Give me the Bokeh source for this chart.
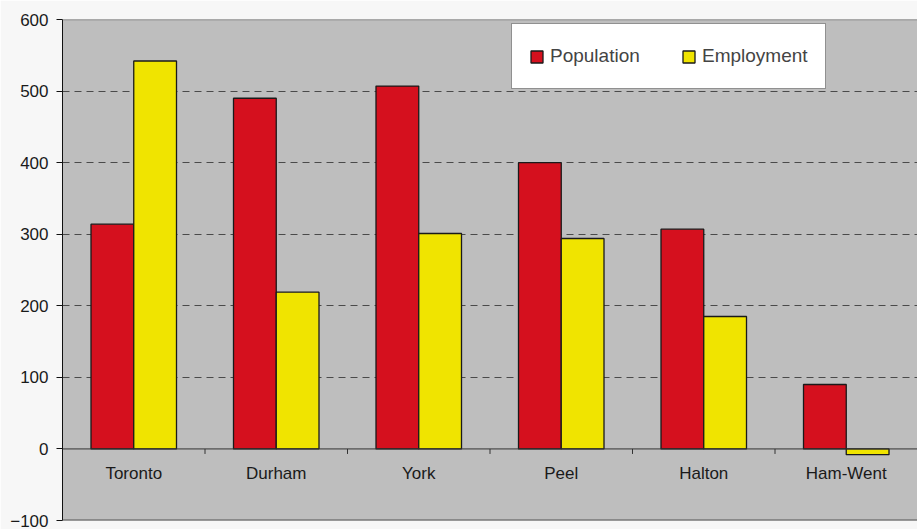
from bokeh.plotting import figure
from bokeh.models import (FactorRange, Range1d, Legend, LegendItem, Span,
                          FixedTicker, ColumnDataSource)
from bokeh.transform import dodge
from bokeh.core.properties import value
from bokeh.embed import file_html
from bokeh.resources import INLINE

regions = ["Toronto", "Durham", "York", "Peel", "Halton", "Ham-Went"]
population = [314, 490, 507, 400, 307, 90]
employment = [542, 219, 301, 294, 185, -8]
y_ticks = [-100, 0, 100, 200, 300, 400, 500, 600]
grid_ticks = [100, 200, 300, 400, 500]
boundaries = [1, 2, 3, 4, 5]

FONT = "Liberation Sans"
RED = "#d5101e"
YELLOW = "#f0e400"

source = ColumnDataSource(dict(region=regions, population=population,
                               employment=employment))

p = figure(width=917, height=529,
           x_range=FactorRange(*regions, range_padding=0),
           y_range=Range1d(-100, 600),
           output_backend="svg", toolbar_location=None,
           min_border_left=62, min_border_right=0,
           min_border_top=19, min_border_bottom=9)

p.background_fill_color = "#bebebe"
p.border_fill_color = "#f7f7f7"
p.outline_line_color = None

p.xaxis.visible = False
p.xgrid.visible = False
p.ygrid.ticker = FixedTicker(ticks=grid_ticks)
p.ygrid.grid_line_color = "#4a4a4a"
p.ygrid.grid_line_dash = "7 5"
p.ygrid.grid_line_width = 1

yax = p.yaxis[0]
yax.ticker = FixedTicker(ticks=y_ticks)
yax.axis_line_color = "#111111"
yax.major_tick_line_color = "#111111"
yax.major_tick_out = 6
yax.major_tick_in = 0
yax.minor_tick_line_color = None
yax.major_label_text_font = FONT
yax.major_label_text_font_size = "17px"
yax.major_label_text_color = "#1a1a1a"
yax.major_label_standoff = 8

p.add_layout(Span(location=600, dimension="width", line_color="#777777", line_width=1.5))
p.add_layout(Span(location=-100, dimension="width", line_color="#555555", line_width=2))
p.add_layout(Span(location=0, dimension="width", line_color="#333333", line_width=1))

p.segment(x0=boundaries, x1=boundaries, y0=0, y1=-7, line_color="#333333", line_width=1)

r_pop = p.vbar(x=dodge("region", -0.15, range=p.x_range), top="population", bottom=0,
               width=0.3, fill_color=RED, line_color="#1a1a1a", line_width=1.3,
               source=source)
r_emp = p.vbar(x=dodge("region", 0.15, range=p.x_range), top="employment", bottom=0,
               width=0.3, fill_color=YELLOW, line_color="#1a1a1a", line_width=1.3,
               source=source)

p.text(x="region", y=0, text="region", source=source,
       text_align="center", text_baseline="top", y_offset=15,
       text_font=value(FONT), text_font_size="17px", text_color="#1a1a1a")

legend = Legend(items=[LegendItem(label="Population", renderers=[r_pop]),
                       LegendItem(label="Employment", renderers=[r_emp])],
                location=(449, 431), orientation="horizontal",
                glyph_width=15, glyph_height=15, label_standoff=6,
                label_width=100, label_height=30,
                spacing=31, padding=17, margin=0,
                label_text_font=FONT, label_text_font_size="19px",
                border_line_color="#222222", border_line_width=1.5,
                background_fill_color="white", background_fill_alpha=1)
p.add_layout(legend, "center")

open("out.html", "w").write(file_html(p, INLINE))
